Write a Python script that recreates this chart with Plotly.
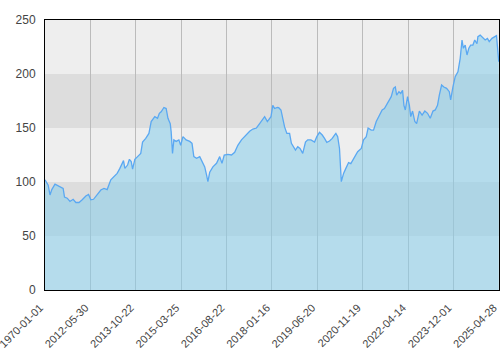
import plotly.graph_objects as go

# Tick labels along the x axis (evenly spaced index positions)
tick_labels = ["1970-01-01", "2012-05-30", "2013-10-22", "2015-03-25", "2016-08-22",
               "2018-01-16", "2019-06-20", "2020-11-19", "2022-04-14", "2023-12-01",
               "2025-04-28"]
tick_positions = [0, 100, 200, 300, 400, 500, 600, 700, 800, 900, 1000]

# Series: index position and value
idx = [0, 7, 11, 15, 22, 27, 34, 40, 43, 49, 55, 62, 68, 75, 82, 90, 96, 101, 107, 114,
       123, 130, 137, 145, 152, 159, 165, 173, 176, 182, 186, 190, 193, 198, 204, 211,
       215, 222, 229, 234, 242, 248, 252,
       256, 262, 267, 271, 276, 278, 281, 284, 289, 295, 299, 304, 311, 319, 324, 328,
       334, 341, 346, 352, 356, 359, 363, 370, 378, 385, 390, 395, 403, 411, 418, 425,
       433, 442, 451, 458, 466, 473, 478, 484, 490, 498, 502, 506, 512,
       515, 520, 524, 528, 533, 539, 543, 547, 552, 557, 562, 568, 574, 579, 586, 594,
       599, 605, 611, 616, 621, 627, 633, 638, 641, 645, 649, 653, 658, 663, 669, 674,
       682, 689, 697, 702, 708, 712, 719, 724, 730, 737, 743, 748, 755, 763, 768, 772,
       775, 780, 784, 788, 791, 794, 799, 803, 806, 810, 815, 819, 825, 831, 837, 843,
       849, 855, 860, 865, 869, 874, 879, 885, 891, 894, 899, 904, 910, 915, 919, 922,
       926, 930, 934, 938, 943, 947, 952, 954, 959, 965, 970, 975, 979, 985, 990, 995,
       1000]
values = [102, 97, 88, 93, 98, 97, 95, 94, 86, 85, 82, 84, 81, 81, 83.5, 87, 88.5, 83.5, 84, 88,
          92.6, 94, 93, 102, 105, 108, 112.6, 119.8, 112.6, 115.7, 121, 119, 112, 121, 123.5, 126.5,
          137, 140.4, 145, 155.9, 160.5, 159, 163.6,
          165, 169, 168, 159, 154, 146.6, 126.5, 139, 137.6, 139, 134, 142, 139, 137.6, 135.8, 123.5,
          122, 123.5, 118.8, 114, 106.5, 100.3, 109, 114, 117.3, 123.5, 117.3, 125, 125.5, 125, 127.5, 134,
          139, 143, 147, 149, 150, 154, 157.4, 160.5, 155.9, 160.5, 171, 168, 169,
          168.8, 166.7, 159, 151, 145, 145, 135.8, 132.7, 129.6, 132.7, 131, 126.5, 137, 139, 139, 137,
          142, 146, 143.5, 140.4, 136.7, 138, 140.4, 143.5, 145, 142, 131, 100.3, 108, 112.6, 118, 117,
          123.5, 128, 131, 139, 142, 150, 148, 148, 156, 162, 166.7, 168, 172.8, 179, 186.7, 188,
          180.5, 183.6, 182, 185, 171, 166.7, 179, 171, 160.5, 165.7, 156, 154, 165.7, 162, 165.7, 163.6,
          159, 165.7, 166.7, 171, 180.5, 189.8, 188, 186.7, 183.6, 176, 188, 197.5, 202, 214.5, 231.5, 223.8,
          226.8, 217.6, 223.8, 226.8, 226.8, 231.5, 228, 234.6, 236, 233, 231.5, 233, 230, 233, 234.6, 235.5,
          211.4]

y_ticks = [0, 50, 100, 150, 200, 250]
band_edges = [(0, 50), (50, 100), (100, 150), (150, 200), (200, 250)]
band_colors = ["#eeeeee", "#dddddd", "#eeeeee", "#dddddd", "#eeeeee"]

fig = go.Figure()
fig.add_trace(go.Scatter(
    x=idx, y=values, mode="lines",
    line=dict(color="#5aa8f2", width=1.3),
    fill="tozeroy", fillcolor="rgba(135,206,235,0.55)",
    hoverinfo="skip", showlegend=False,
))

for (lo, hi), col in zip(band_edges, band_colors):
    fig.add_shape(type="rect", xref="paper", yref="y", x0=0, x1=1, y0=lo, y1=hi,
                  fillcolor=col, line_width=0, layer="below")

fig.update_layout(
    width=500, height=350,
    margin=dict(l=45, r=1, t=20, b=60),
    paper_bgcolor="white", plot_bgcolor="white",
    font=dict(family="Liberation Sans, Arial, sans-serif", color="#444444"),
    showlegend=False,
)
fig.update_xaxes(
    range=[0, 1000.5], tickmode="array", tickvals=tick_positions, ticktext=tick_labels,
    tickangle=-45, tickfont=dict(size=11), showgrid=True, gridcolor="#bbbbbb", gridwidth=1,
    showline=True, linecolor="black", linewidth=1, mirror=True, ticks="", zeroline=False,
    ticklabelshift=-5, ticklabelstandoff=6, ticklabeloverflow="allow", automargin=False,
)
fig.update_yaxes(
    range=[0, 250], tickmode="array", tickvals=y_ticks, tickfont=dict(size=12),
    showgrid=False, showline=True, linecolor="black", linewidth=1, mirror=True,
    ticks="", zeroline=False, ticklabelstandoff=6, automargin=False,
)

fig.write_html("out.html")
